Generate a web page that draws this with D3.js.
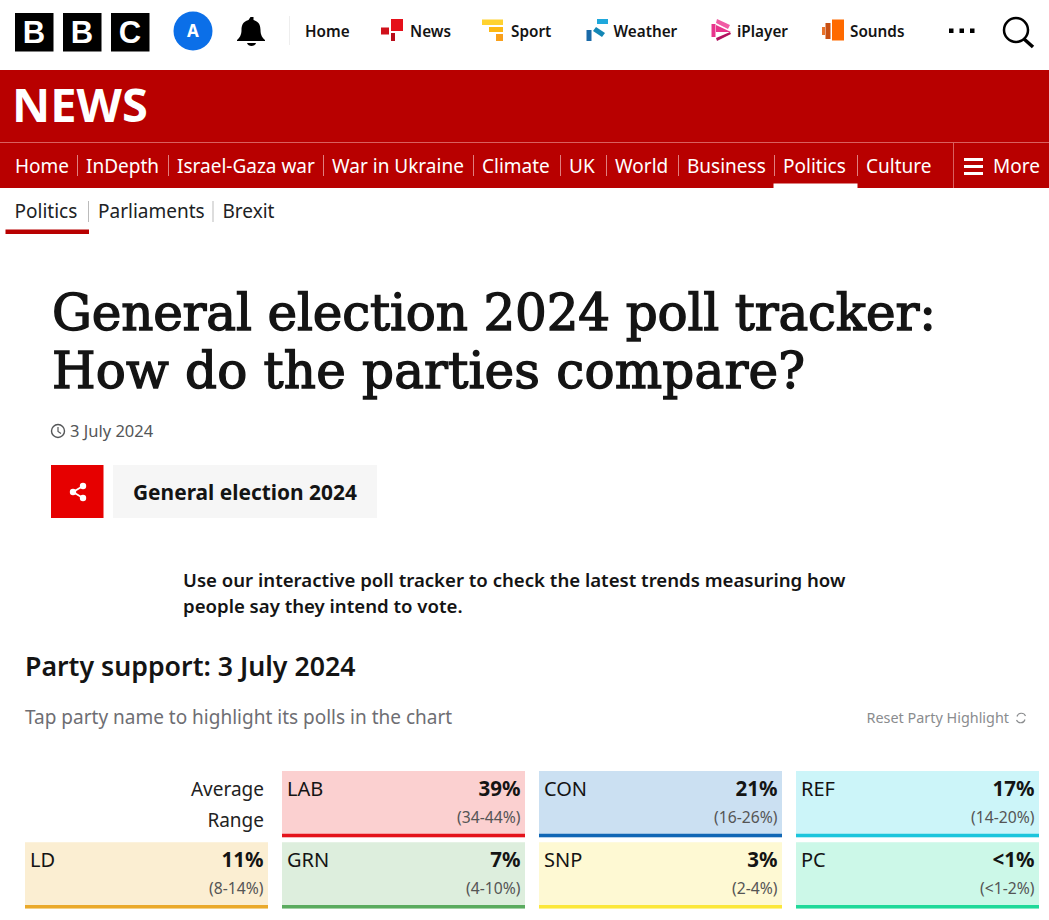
<!DOCTYPE html>
<meta charset='utf-8'>
<head>
    <title>General election 2024 poll tracker</title>
    <script src='https://d3js.org/d3.v7.min.js'></script>
</head>

<style>
    html, body { margin: 0; padding: 0; background: #fff; }
    svg { display: block; }
    text { font-family: 'Noto Sans', sans-serif; fill: #141414; }
</style>

<svg></svg>

<script>
    var vWidth = 1049;
    var vHeight = 920;

    // Poll tracker values
    var parties = ['LAB', 'CON', 'REF', 'LD', 'GRN', 'SNP', 'PC'];
    var averages = ['39%', '21%', '17%', '11%', '7%', '3%', '<1%'];
    var ranges = ['(34-44%)', '(16-26%)', '(14-20%)', '(8-14%)', '(4-10%)', '(2-4%)', '(<1-2%)'];
    var tints = ['#fbd0d0', '#cbe0f2', '#ccf5f9', '#fbeed2', '#ddeedd', '#fef9d3', '#ccf8e8'];
    var strokes = ['#e4131b', '#1167b5', '#1cc5dc', '#eaa92a', '#5aab5e', '#fbe73a', '#1fd999'];

    // Page text
    var siteLinks = ['Home', 'News', 'Sport', 'Weather', 'iPlayer', 'Sounds'];
    var newsLinks = ['Home', 'InDepth', 'Israel-Gaza war', 'War in Ukraine', 'Climate', 'UK', 'World', 'Business', 'Politics', 'Culture'];
    var subLinks = ['Politics', 'Parliaments', 'Brexit'];
    var headline = ['General election 2024 poll tracker:', 'How do the parties compare?'];
    var intro = ['Use our interactive poll tracker to check the latest trends measuring how', 'people say they intend to vote.'];
    var rowLabels = ['Average', 'Range'];

    var svg = d3.select('svg').attr('width', vWidth).attr('height', vHeight);

    function label(parent, x, y, str, size, weight, color, anchor) {
        return parent.append('text').attr('x', x).attr('y', y).text(str)
            .style('font-size', size + 'px').style('font-weight', weight || 400)
            .style('fill', color || '#141414').attr('text-anchor', anchor || 'start');
    }

    function box(parent, x, y, w, h, color) {
        return parent.append('rect').attr('x', x).attr('y', y).attr('width', w).attr('height', h).attr('fill', color);
    }

    // Top bar
    var topBar = svg.append('g');
    ['B', 'B', 'C'].forEach(function (c, i) {
        box(topBar, 15 + i * 48, 13, 38.5, 38.5, '#000');
        label(topBar, 34 + i * 48, 43, c, 31, 700, '#fff', 'middle').style('font-family', 'Liberation Sans');
    });
    topBar.append('circle').attr('cx', 193).attr('cy', 31).attr('r', 19.5).attr('fill', '#0b6fe8');
    label(topBar, 193, 37, 'A', 17, 700, '#fff', 'middle');
    topBar.append('path').attr('fill', '#000')
        .attr('d', 'M250.5 17 h3 v3 c6 1.5 7 6 7 10 c0 5 2 8 4.5 10 v1 h-28 v-1 c2.5 -2 4.5 -5 4.5 -10 c0 -4 1 -8.5 7 -10 z M247 43 h9 c-1 4 -8 4 -9 0 z');
    box(topBar, 289, 16, 1, 29, '#eeeeee');

    var siteX = d3.scaleOrdinal().domain(siteLinks).range([305, 410, 511, 613.5, 737, 850]);
    siteLinks.forEach(function (s) { label(topBar, siteX(s), 37, s, 15.3, 600); });

    box(topBar, 381, 27.5, 8, 7, '#d0111b');
    box(topBar, 391, 19, 12, 12, '#e5101a');
    box(topBar, 391, 33, 4, 8, '#b80d1a');
    box(topBar, 482, 19.5, 21, 5.5, '#ffd230');
    box(topBar, 489, 27, 14, 5, '#fdb813');
    box(topBar, 496, 34, 7, 7, '#f9a01b');
    box(topBar, 586.5, 30, 5, 11, '#1a6aa8');
    box(topBar, 597, 19, 11, 5, '#1fa8dc');
    topBar.append('path').attr('fill', '#1386b5').attr('d', 'M593 31 l3 -4 l9 6 l-3 4 z');
    topBar.append('path').attr('fill', '#e8348c').attr('d', 'M711.5 24 h4 v13 h-4 z');
    topBar.append('path').attr('fill', '#f05ba4').attr('d', 'M717 19 l13 6 l-2 4 l-12 -6 z');
    topBar.append('path').attr('fill', '#e8348c').attr('d', 'M716 25 l15 7 l-15 0 z');
    topBar.append('path').attr('fill', '#b3125f').attr('d', 'M717 41 l14 -7 l-1 -2 l-14 6 z');
    box(topBar, 822, 27, 3, 8, '#e8732a');
    box(topBar, 825.5, 23, 5, 16, '#c84f12');
    box(topBar, 832, 19.5, 12, 21, '#ff6a00');
    [949, 959.5, 970].forEach(function (x) { box(topBar, x, 28.5, 4.5, 4.5, '#000'); });
    topBar.append('circle').attr('cx', 1016).attr('cy', 30).attr('r', 12).attr('fill', 'none').attr('stroke', '#000').attr('stroke-width', 2.5);
    topBar.append('line').attr('x1', 1024).attr('y1', 39).attr('x2', 1033).attr('y2', 47).attr('stroke', '#000').attr('stroke-width', 3.5);

    // News band
    var band = svg.append('g');
    box(band, 0, 70, vWidth, 118, '#b80000');
    box(band, 0, 142, vWidth, 1, '#d9605f');
    label(band, 12, 122, 'NEWS', 47, 700, '#fff');

    var newsX = d3.scaleOrdinal().domain(newsLinks).range([15, 86, 177, 332, 482, 569, 615, 687, 783, 866]);
    newsLinks.forEach(function (s, i) {
        label(band, newsX(s), 173, s, 19, 400, '#fff');
        if (i > 0) box(band, newsX(s) - 9, 155, 1, 21, '#e07f7f');
    });
    box(band, 773.5, 183.5, 84, 5, '#fff');
    box(band, 953, 143, 1, 45, '#d9605f');
    [158, 165, 172].forEach(function (y) { box(band, 964, y, 19, 3, '#fff'); });
    label(band, 993, 173, 'More', 19, 400, '#fff');

    // Sub navigation
    var subX = d3.scaleOrdinal().domain(subLinks).range([14.5, 98, 222.5]);
    subLinks.forEach(function (s, i) {
        label(svg, subX(s), 218, s, 19, 400, '#202224');
        if (i > 0) box(svg, subX(s) - 10, 201, 1, 21, '#bbbbbb');
    });
    box(svg, 5.5, 229.5, 83.5, 4.5, '#b80000');

    // Headline
    var headY = d3.scalePoint().domain(headline).range([330, 388]);
    var headLength = d3.scaleOrdinal().domain(headline).range([884, 753]);
    headline.forEach(function (s) {
        label(svg, 52, headY(s), s, 50, 400, '#141414')
            .attr('textLength', headLength(s))
            .style('font-family', 'DejaVu Serif').style('stroke', '#141414').style('stroke-width', 1.4);
    });

    // Date and topic
    svg.append('circle').attr('cx', 58).attr('cy', 431).attr('r', 6.5).attr('fill', 'none').attr('stroke', '#545658').attr('stroke-width', 1.4);
    svg.append('path').attr('d', 'M58 427 v4.5 l3 2').attr('fill', 'none').attr('stroke', '#545658').attr('stroke-width', 1.2);
    label(svg, 70, 437, '3 July 2024', 16.5, 400, '#545658');
    box(svg, 51, 465, 52.5, 53, '#e60000');
    svg.append('path').attr('fill', 'none').attr('stroke', '#fff').attr('stroke-width', 1.8).attr('d', 'M83 486 L73 492 L83 498');
    [[83, 486], [73, 492], [83, 498]].forEach(function (p) {
        svg.append('circle').attr('cx', p[0]).attr('cy', p[1]).attr('r', 3.2).attr('fill', '#fff');
    });
    box(svg, 113, 465, 264, 53, '#f6f6f6');
    label(svg, 133, 500, 'General election 2024', 20.9, 700);

    // Intro
    var introY = d3.scalePoint().domain(intro).range([587, 613]);
    intro.forEach(function (s) { label(svg, 183, introY(s), s, 18.6, 600); });

    label(svg, 25, 676, 'Party support: 3 July 2024', 26.7, 600);
    label(svg, 25, 724, 'Tap party name to highlight its polls in the chart', 19, 400, '#6e6e73');
    label(svg, 1009, 723, 'Reset Party Highlight', 14.4, 400, '#8a8c8e', 'end');
    svg.append('path').attr('fill', 'none').attr('stroke', '#8a8c8e').attr('stroke-width', 1.1)
        .attr('d', 'M1025.5 716 A4.5 4.5 0 0 0 1017 716.5 M1016.5 720 A4.5 4.5 0 0 0 1025 719.5');

    // Party tiles: first grid slot holds the row labels
    var xCol = d3.scaleBand().domain(d3.range(4)).range([25, 1039]).paddingInner(14 / 257);
    var yRow = d3.scaleBand().domain(d3.range(2)).range([771, 908.5]).paddingInner(0.07);

    var rowLabelX = xCol(0) + xCol.bandwidth() - 4;
    rowLabels.forEach(function (s, i) {
        label(svg, rowLabelX, 796 + i * 31, s, 19, 400, '#222', 'end');
    });

    var tiles = svg.selectAll('g.tile').data(parties).enter().append('g')
        .attr('class', 'tile')
        .attr('transform', function (d, i) {
            var n = i + 1;
            return 'translate(' + xCol(n % 4) + ',' + yRow(Math.floor(n / 4)) + ')';
        });

    tiles.append('rect').attr('width', xCol.bandwidth()).attr('height', yRow.bandwidth())
        .attr('fill', function (d, i) { return tints[i]; });
    tiles.append('rect').attr('y', yRow.bandwidth() - 3.5).attr('width', xCol.bandwidth()).attr('height', 3.5)
        .attr('fill', function (d, i) { return strokes[i]; });
    tiles.append('text').attr('x', 5).attr('y', 25).text(function (d) { return d; })
        .style('font-size', '20px');
    tiles.append('text').attr('x', xCol.bandwidth() - 4.5).attr('y', 25).attr('text-anchor', 'end')
        .text(function (d, i) { return averages[i]; })
        .style('font-size', '20.5px').style('font-weight', 700);
    tiles.append('text').attr('x', xCol.bandwidth() - 4.5).attr('y', 52).attr('text-anchor', 'end')
        .text(function (d, i) { return ranges[i]; })
        .style('font-size', '15.7px').style('fill', '#555');
</script>
